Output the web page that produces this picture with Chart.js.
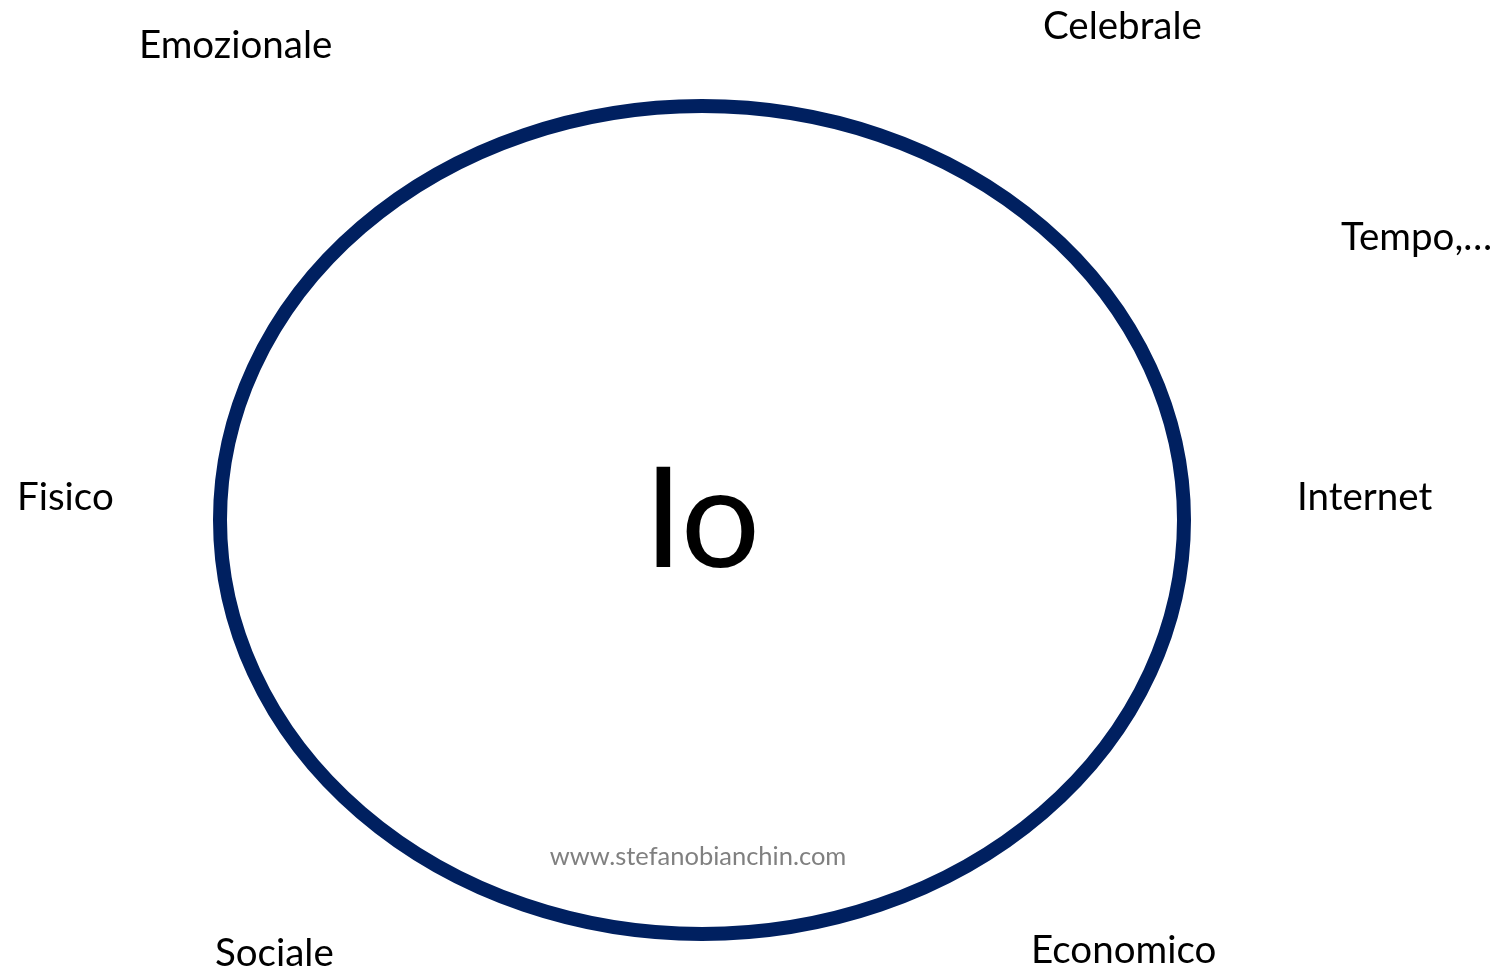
<!DOCTYPE html>
<html>
<head>
<meta charset="utf-8">
<script src="https://cdn.jsdelivr.net/npm/chart.js@4"></script>
<style>
  html, body { margin: 0; padding: 0; background: #fff; }
  .wrap { width: 1506px; height: 973px; position: relative; }
</style>
</head>
<body>
<div class="wrap"><canvas id="diagram"></canvas></div>
<script>
// labels around the circle, positions in page units (left edge, vertical middle)
const labels = ['Emozionale', 'Celebrale', 'Tempo,…', 'Internet', 'Economico', 'Sociale', 'Fisico'];
const labelX = [139, 1043, 1341, 1297, 1031, 215, 17];
const labelY = [46, 27, 238, 498, 951, 954, 498];

// the "Io" ring
const ringCenter = [702, 520];
const ringRadius = [482, 414];
const centerText = 'Io';
const watermark = 'www.stefanobianchin.com';
const watermarkPos = [698, 857];

const ringColor = '#002060';

const textPlugin = {
    id: 'diagramText',
    afterDatasetsDraw(chart) {
        const { ctx, scales: { x, y } } = chart;
        ctx.save();

        // ring
        const cx = x.getPixelForValue(ringCenter[0]);
        const cy = y.getPixelForValue(ringCenter[1]);
        const rx = Math.abs(x.getPixelForValue(ringCenter[0] + ringRadius[0]) - cx);
        const ry = Math.abs(y.getPixelForValue(ringCenter[1] + ringRadius[1]) - cy);
        ctx.beginPath();
        ctx.ellipse(cx, cy, rx, ry, 0, 0, Math.PI * 2);
        ctx.lineWidth = 14;
        ctx.strokeStyle = ringColor;
        ctx.stroke();

        // outer labels
        ctx.fillStyle = '#000';
        ctx.textBaseline = 'middle';
        ctx.textAlign = 'left';
        ctx.font = '38.5px Lato';
        labels.forEach((t, i) => {
            ctx.fillText(t, x.getPixelForValue(labelX[i]), y.getPixelForValue(labelY[i]));
        });

        // big centre text
        ctx.textAlign = 'center';
        ctx.textBaseline = 'alphabetic';
        ctx.font = '140px Lato';
        ctx.fillText(centerText, cx, y.getPixelForValue(567));

        // watermark
        ctx.fillStyle = '#808080';
        ctx.textBaseline = 'middle';
        ctx.font = '25.5px Lato';
        ctx.fillText(watermark, x.getPixelForValue(watermarkPos[0]), y.getPixelForValue(watermarkPos[1]));

        ctx.restore();
    }
};

new Chart(document.getElementById('diagram'), {
    type: 'scatter',
    data: {
        datasets: [{
            data: labels.map((t, i) => ({ x: labelX[i], y: labelY[i] })),
            pointRadius: 0,
            pointHoverRadius: 0
        }]
    },
    options: {
        responsive: true,
        maintainAspectRatio: false,
        animation: false,
        layout: { padding: 0 },
        scales: {
            x: { type: 'linear', min: 0, max: 1506, display: false },
            y: { type: 'linear', min: 0, max: 973, reverse: true, display: false }
        },
        plugins: {
            legend: { display: false },
            tooltip: { enabled: false }
        }
    },
    plugins: [textPlugin]
});
</script>
</body>
</html>
